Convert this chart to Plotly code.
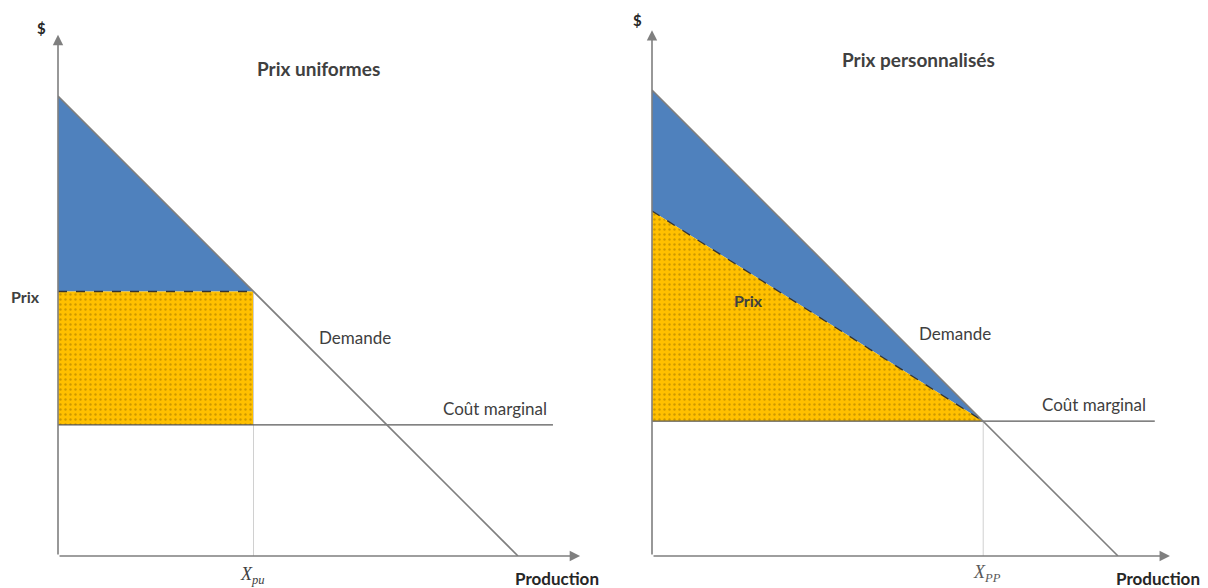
import plotly.graph_objects as go

W, H = 1208, 588

# ---- data (economic units) ----
# Left panel: uniform price
demand_left_q = [0, 10.0]
demand_left_p = [10.0, 0]
price_uniform = 5.75
q_uniform = 4.25
mc_left = 2.85
mc_left_end = 10.76

# Right panel: personalised prices
demand_right_q = [0, 10.13]
demand_right_p = [10.13, 0]
mc_right = 2.93
q_pp = 7.2
price_pp_start = 7.5
mc_right_end = 10.93

axis_x_end = [11.35, 11.26]
axis_y_end = [11.33, 11.43]

BLUE = "#4F81BD"
YELLOW = "#FFC000"
GRAY = "#7F7F7F"
DARK = "#404040"
FONT = "Lato"

fig = go.Figure()

def add(tr, k):
    tr.xaxis = "x" if k == 0 else "x2"
    tr.yaxis = "y" if k == 0 else "y2"
    fig.add_trace(tr)

yellow_kw = dict(fill="toself", fillcolor=YELLOW, line=dict(width=0), mode="lines",
                 fillpattern=dict(shape=".", fgcolor="#9A7000", bgcolor=YELLOW, size=5, solidity=0.18),
                 hoverinfo="skip", showlegend=False)
blue_kw = dict(fill="toself", fillcolor=BLUE, line=dict(width=0), mode="lines",
               hoverinfo="skip", showlegend=False)

# ---- left panel ----
add(go.Scatter(x=[0, q_uniform, 0, 0], y=[demand_left_p[0], price_uniform, price_uniform, demand_left_p[0]], **blue_kw), 0)
add(go.Scatter(x=[0, q_uniform, q_uniform, 0, 0], y=[price_uniform, price_uniform, mc_left, mc_left, price_uniform], **yellow_kw), 0)
add(go.Scatter(x=[q_uniform, q_uniform], y=[price_uniform, 0], mode="lines",
               line=dict(color="#D0D0D0", width=1), showlegend=False, hoverinfo="skip"), 0)
add(go.Scatter(x=[0, q_uniform], y=[price_uniform, price_uniform], mode="lines",
               line=dict(color="#333333", width=1.3, dash="dash"), showlegend=False, hoverinfo="skip"), 0)
add(go.Scatter(x=[0, mc_left_end], y=[mc_left, mc_left], mode="lines",
               line=dict(color="#595959", width=1.3), showlegend=False, hoverinfo="skip"), 0)
add(go.Scatter(x=demand_left_q, y=demand_left_p, mode="lines",
               line=dict(color=GRAY, width=1.6), showlegend=False, hoverinfo="skip"), 0)

# ---- right panel ----
add(go.Scatter(x=[0, q_pp, 0, 0], y=[demand_right_p[0], mc_right, price_pp_start, demand_right_p[0]], **blue_kw), 1)
add(go.Scatter(x=[0, q_pp, 0, 0], y=[price_pp_start, mc_right, mc_right, price_pp_start], **yellow_kw), 1)
add(go.Scatter(x=[q_pp, q_pp], y=[mc_right, 0], mode="lines",
               line=dict(color="#D0D0D0", width=1), showlegend=False, hoverinfo="skip"), 1)
add(go.Scatter(x=[0, q_pp], y=[price_pp_start, mc_right], mode="lines",
               line=dict(color="#333333", width=1.3, dash="dash"), showlegend=False, hoverinfo="skip"), 1)
add(go.Scatter(x=[0, mc_right_end], y=[mc_right, mc_right], mode="lines",
               line=dict(color="#595959", width=1.3), showlegend=False, hoverinfo="skip"), 1)
add(go.Scatter(x=demand_right_q, y=demand_right_p, mode="lines",
               line=dict(color=GRAY, width=1.6), showlegend=False, hoverinfo="skip"), 1)

# ---- axes arrows ----
for k in range(2):
    xr = "x" if k == 0 else "x2"
    yr = "y" if k == 0 else "y2"
    fig.add_annotation(x=axis_x_end[k], y=0, ax=0, ay=0, xref=xr, yref=yr, axref=xr, ayref=yr,
                       showarrow=True, arrowhead=2, arrowsize=1.3, arrowwidth=1.6, arrowcolor=GRAY, text="")
    fig.add_annotation(x=0, y=axis_y_end[k], ax=0, ay=0, xref=xr, yref=yr, axref=xr, ayref=yr,
                       showarrow=True, arrowhead=2, arrowsize=1.3, arrowwidth=1.6, arrowcolor=GRAY, text="")

def txt(px, py, s, size=13, bold=False, color=DARK, family=FONT, xanchor="center"):
    fig.add_annotation(x=px / W, y=1 - py / H, xref="paper", yref="paper", text=(f"<b>{s}</b>" if bold else s),
                       showarrow=False, xanchor=xanchor, yanchor="middle",
                       font=dict(size=size, color=color, family=family))

# left texts
txt(41, 28, "$", 15, True, "#262626")
txt(318, 69, "Prix uniformes", 19, True)
txt(25, 296, "Prix", 16, True)
txt(355, 337, "Demande", 17)
txt(495, 408, "Coût marginal", 17)
txt(253, 575, "<i>X</i><sub><i>pu</i></sub>", 18, False, "#404040", "Liberation Serif")
txt(557, 578, "Production", 17, True, "#262626")

# right texts
txt(637, 20, "$", 15, True, "#262626")
txt(918, 59, "Prix personnalisés", 19, True)
txt(748, 300, "Prix", 16, True)
txt(955, 333, "Demande", 17)
txt(1094, 404, "Coût marginal", 17)
txt(987, 573, "<i>X</i><sub><i>PP</i></sub>", 18, False, "#595959", "Liberation Serif")
txt(1158, 578, "Production", 17, True, "#262626")

ax_common = dict(visible=False, showgrid=False, zeroline=False, range=[0, 11.5], fixedrange=True)
y0 = (H - 556) / H
y1 = (H - 27) / H
fig.update_layout(
    width=W, height=H, margin=dict(l=0, r=0, t=0, b=0),
    paper_bgcolor="white", plot_bgcolor="white", showlegend=False,
    xaxis=dict(domain=[58 / W, (58 + 11.5 * 46) / W], **ax_common),
    yaxis=dict(domain=[y0, y1], **ax_common),
    xaxis2=dict(domain=[652 / W, (652 + 11.5 * 46) / W], anchor="y2", **ax_common),
    yaxis2=dict(domain=[y0, y1], anchor="x2", **ax_common),
)

fig.write_html("out.html", config={"displayModeBar": False},
               post_script="document.body.style.margin='0';document.body.style.overflow='hidden';")
